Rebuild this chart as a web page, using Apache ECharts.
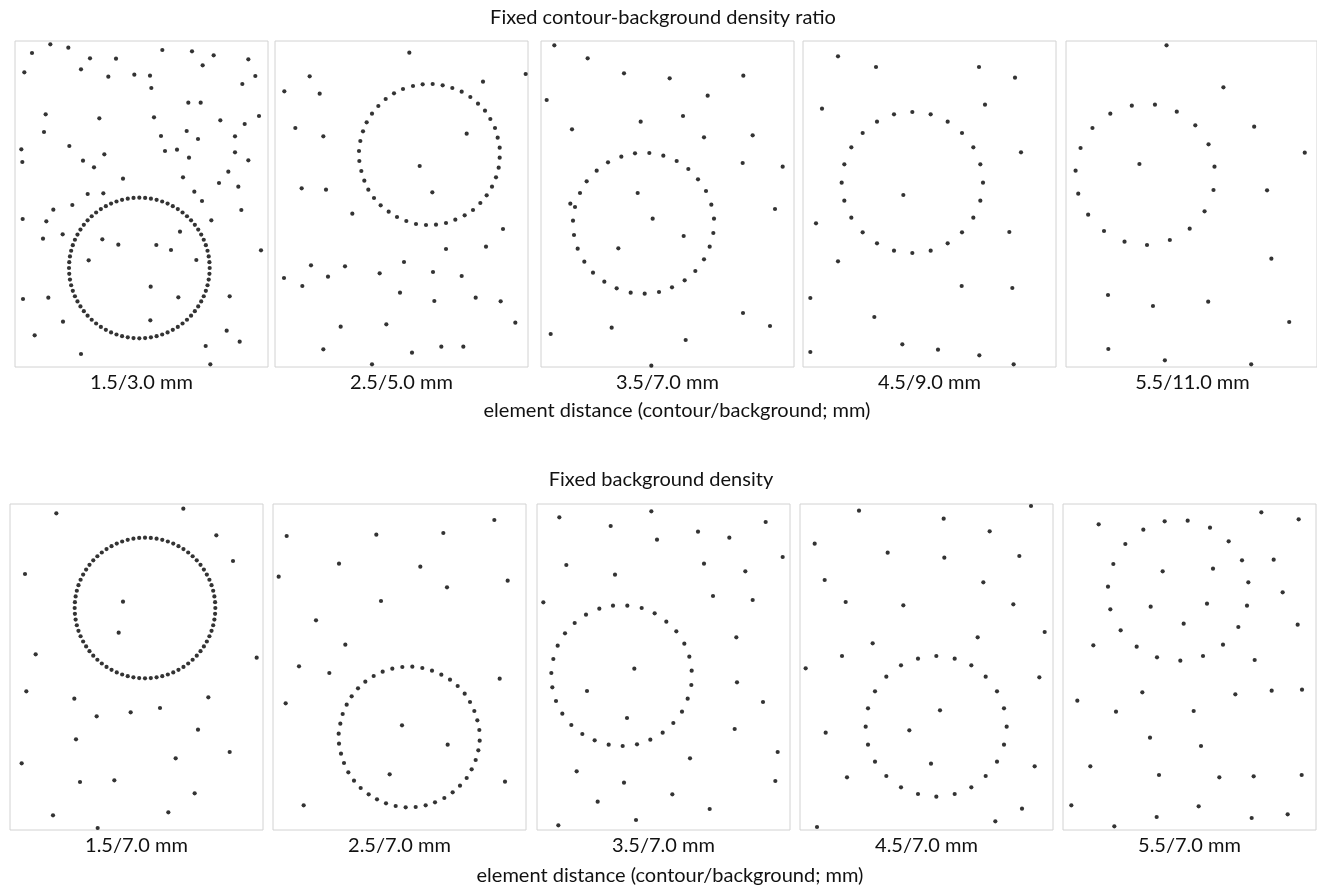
<!DOCTYPE html>
<html>
<head>
<meta charset="utf-8">
<script src="https://cdn.jsdelivr.net/npm/echarts@6/dist/echarts.min.js"></script>
<style>
html,body{margin:0;padding:0;background:#fff;}
#chart{width:1317px;height:887px;}
</style>
</head>
<body>
<div id="chart"></div>
<script>
// ---------- text ----------
const rowTitles = ['Fixed contour-background density ratio', 'Fixed background density'];
const topLabels = ['1.5/3.0 mm', '2.5/5.0 mm', '3.5/7.0 mm', '4.5/9.0 mm', '5.5/11.0 mm'];
const bottomLabels = ['1.5/7.0 mm', '2.5/7.0 mm', '3.5/7.0 mm', '4.5/7.0 mm', '5.5/7.0 mm'];
const axisTitle = 'element distance (contour/background; mm)';

// ---------- element positions (panel units, 0..759 x 0..978, y downward) ----------
// top row backgrounds
const top1Bg = [[106,10],[160,20],[51,36],[442,27],[531,31],[596,43],[225,52],[303,53],[700,55],[563,73],[198,85],[28,94],[358,101],[405,104],[280,107],[721,105],[682,129],[409,141],[520,185],[557,185],[92,220],[253,232],[417,229],[732,225],[616,238],[689,249],[87,273],[515,270],[438,285],[660,286],[549,294],[163,315],[19,325],[450,330],[486,326],[268,340],[660,334],[22,363],[204,359],[522,350],[700,358],[237,379],[640,392],[324,413],[504,409],[612,426],[670,437],[218,459],[265,457],[538,452],[561,480],[172,492],[115,506],[679,507],[23,534],[94,541],[589,538],[84,593],[143,580],[262,595],[310,611],[424,612],[495,572],[468,627],[738,628],[221,658],[544,657],[407,737],[24,774],[100,770],[490,769],[644,766],[144,842],[406,838],[635,869],[59,883],[674,902],[572,915],[198,939],[586,970]];
const top2Bg = [[403,35],[752,99],[104,106],[624,122],[28,151],[134,158],[61,261],[145,286],[575,278],[434,375],[80,442],[153,446],[472,454],[232,518],[684,564],[513,624],[633,617],[108,673],[210,676],[387,663],[27,711],[159,707],[314,697],[474,693],[560,705],[82,735],[375,755],[478,780],[602,770],[677,781],[721,845],[197,857],[334,850],[145,925],[411,935],[499,917],[565,917],[291,970]];
const top3Bg = [[40,13],[140,52],[249,97],[386,112],[607,104],[17,177],[500,164],[426,225],[299,242],[93,265],[635,283],[489,289],[605,366],[725,377],[290,456],[335,533],[88,488],[702,504],[428,585],[232,622],[606,816],[687,855],[29,879],[212,860],[434,897],[331,974]];
const top4Bg = [[105,46],[219,78],[528,78],[636,110],[57,203],[546,191],[654,334],[301,462],[39,547],[619,573],[105,661],[476,735],[628,741],[22,771],[214,828],[298,910],[405,926],[22,933],[529,943],[632,970]];
const top5Bg = [[304,13],[476,139],[569,257],[722,335],[222,369],[608,448],[621,653],[127,762],[263,795],[430,782],[675,843],[128,924],[299,958],[560,970]];
// top row contours
const top2Ring = [[357,157],[384,144],[414,135],[443,130],[473,129],[503,133],[532,141],[560,152],[586,168],[609,188],[630,209],[646,234],[660,261],[668,290],[674,320],[674,350],[671,380],[663,409],[651,437],[635,463],[616,486],[594,507],[569,523],[541,536],[513,546],[483,551],[453,552],[423,549],[394,540],[366,528],[341,512],[317,493],[297,471],[280,446],[268,419],[259,390],[253,360],[252,330],[256,300],[264,271],[275,244],[291,218],[310,195],[332,174]];
const top3Ring = [[282,337],[325,336],[367,344],[407,360],[442,384],[471,415],[495,450],[511,491],[519,533],[517,576],[506,617],[489,655],[463,690],[431,718],[393,739],[354,753],[311,758],[269,755],[227,742],[190,722],[156,695],[130,662],[110,623],[99,582],[96,539],[102,498],[117,456],[137,421],[167,389],[201,364],[241,347]];
const top4Ring = [[328,213],[383,220],[434,242],[477,276],[511,319],[532,370],[540,425],[532,479],[511,530],[477,574],[434,607],[383,629],[328,636],[273,629],[222,607],[179,574],[145,530],[124,479],[116,425],[124,370],[145,319],[179,276],[222,242],[273,220]];
const top5Ring = [[199,194],[269,191],[335,212],[391,253],[431,310],[449,377],[446,447],[419,511],[374,563],[314,597],[245,612],[177,602],[115,570],[67,521],[37,458],[29,389],[44,321],[80,261],[134,218]];
// bottom row backgrounds
const bot1Bg = [[139,28],[520,14],[619,94],[669,171],[45,210],[339,293],[326,386],[77,451],[740,461],[49,562],[193,584],[595,580],[450,612],[362,625],[260,637],[564,677],[198,706],[659,744],[497,763],[35,778],[210,834],[313,829],[554,868],[475,925],[129,934],[263,972]];
const bot2Bg = [[664,48],[41,96],[310,92],[511,87],[198,179],[442,188],[17,218],[704,230],[522,250],[324,291],[129,349],[217,422],[78,487],[169,507],[680,524],[38,598],[387,664],[524,722],[350,811],[696,833],[92,904]];
const bot3Bg = [[67,40],[343,22],[221,66],[360,107],[483,83],[577,101],[686,54],[88,183],[234,212],[501,179],[625,202],[737,159],[19,295],[528,276],[647,288],[598,400],[292,494],[150,561],[600,535],[678,594],[270,642],[593,675],[722,744],[459,763],[119,802],[261,836],[715,831],[406,871],[182,893],[518,915],[297,948],[64,964]];
const bot4Bg = [[177,20],[431,44],[693,6],[569,82],[44,119],[263,146],[433,161],[658,156],[74,228],[550,235],[137,294],[310,304],[640,301],[734,384],[533,400],[218,418],[126,456],[17,493],[718,520],[420,619],[328,679],[77,686],[393,779],[704,787],[141,820],[666,914],[586,952],[51,969]];
const bot5Bg = [[595,25],[707,46],[107,61],[632,167],[450,194],[299,202],[659,265],[263,308],[432,299],[362,359],[704,362],[91,424],[575,468],[43,590],[238,565],[517,571],[626,560],[717,557],[159,623],[392,621],[261,701],[414,726],[82,787],[288,813],[469,820],[572,817],[716,813],[25,904],[407,907],[281,939],[566,942],[674,931],[154,967]];
// bottom row contours
const bot2Ring = [[388,489],[418,488],[448,492],[477,500],[505,512],[531,527],[554,546],[575,569],[591,594],[604,621],[613,649],[619,678],[620,710],[616,739],[608,768],[596,796],[581,822],[561,845],[539,865],[514,882],[486,895],[458,904],[428,909],[398,910],[368,906],[339,898],[312,886],[287,871],[263,852],[243,830],[226,805],[213,777],[204,749],[198,719],[197,689],[202,659],[209,630],[221,602],[236,577],[255,553],[277,533],[302,516],[329,503],[358,494]];
const bot3Ring = [[228,305],[271,305],[314,312],[353,328],[388,353],[418,382],[442,419],[457,458],[464,500],[463,543],[452,584],[435,623],[409,657],[377,686],[340,707],[300,721],[257,726],[215,722],[173,709],[136,690],[103,663],[76,629],[57,591],[46,550],[43,507],[49,465],[62,425],[84,388],[113,357],[147,332],[187,314]];
const bot4Ring = [[409,456],[464,464],[514,484],[557,518],[591,562],[612,613],[620,668],[612,722],[591,773],[557,816],[514,850],[464,870],[409,878],[354,870],[303,850],[259,816],[225,773],[204,722],[197,668],[204,613],[225,562],[259,518],[303,484],[354,464]];
const bot5Ring = [[187,120],[241,77],[305,52],[374,50],[441,71],[497,112],[537,169],[556,235],[552,305],[526,369],[480,422],[420,456],[352,470],[282,460],[221,428],[173,379],[142,316],[135,248],[151,180]];
// densest contours (1.5 mm spacing): centre, radius and element count
const denseRingCenter = [[373, 681], [405, 312]];
const denseRingRadius = [211, 211];
const denseRingCount = [76, 76];

function denseRing(k) {
  const pts = [];
  const n = denseRingCount[k], c = denseRingCenter[k], r = denseRingRadius[k];
  for (let i = 0; i < n; i++) {
    const a = -Math.PI / 2 + 2 * Math.PI * i / n;
    pts.push([c[0] + r * Math.cos(a), c[1] + r * Math.sin(a)]);
  }
  return pts;
}

const panelBg = [top1Bg, top2Bg, top3Bg, top4Bg, top5Bg, bot1Bg, bot2Bg, bot3Bg, bot4Bg, bot5Bg];
const panelRing = [denseRing(0), top2Ring, top3Ring, top4Ring, top5Ring, denseRing(1), bot2Ring, bot3Ring, bot4Ring, bot5Ring];

// ---------- layout ----------
const topLefts = [15, 275, 541, 803, 1066];
const botLefts = [10, 273, 537, 800, 1063];
const PW = 253, PH = 326, TOP1 = 41, TOP2 = 504;
const FONT = 'Lato';
const FS = 20;

const grids = [], xAxes = [], yAxes = [], series = [], graphics = [];
for (let i = 0; i < 10; i++) {
  const row = i < 5 ? 0 : 1;
  const left = row === 0 ? topLefts[i] : botLefts[i - 5];
  const top = row === 0 ? TOP1 : TOP2;
  grids.push({left: left, top: top, width: PW, height: PH, show: true, borderColor: '#d2d2d2', borderWidth: 1, backgroundColor: '#fff'});
  xAxes.push({type: 'value', gridIndex: i, min: 0, max: 759, show: false});
  yAxes.push({type: 'value', gridIndex: i, min: 0, max: 978, inverse: true, show: false});
  [panelBg[i], panelRing[i]].forEach(function (d) {
    series.push({type: 'scatter', xAxisIndex: i, yAxisIndex: i, data: d, symbol: 'circle', symbolSize: 4.2,
      itemStyle: {color: '#000'}, silent: true, clip: false});
  });
  const lbl = row === 0 ? topLabels[i] : bottomLabels[i - 5];
  graphics.push({type: 'text', x: left + PW / 2, y: top + PH + 16,
    style: {text: lbl, fontFamily: FONT, fontSize: FS, fill: '#111', align: 'center', verticalAlign: 'middle', textAlign: 'center', textVerticalAlign: 'middle'}});
}
function addText(txt, x, y) {
  graphics.push({type: 'text', x: x, y: y,
    style: {text: txt, fontFamily: FONT, fontSize: FS, fill: '#111', align: 'center', verticalAlign: 'middle', textAlign: 'center', textVerticalAlign: 'middle'}});
}
addText(rowTitles[0], 663, 18);
addText(axisTitle, 677, 411);
addText(rowTitles[1], 661, 480);
addText(axisTitle, 670, 876);

const chart = echarts.init(document.getElementById('chart'), null, {renderer: 'canvas'});
chart.setOption({
  animation: false,
  backgroundColor: '#fff',
  grid: grids,
  xAxis: xAxes,
  yAxis: yAxes,
  series: series,
  graphic: graphics
});
</script>
</body>
</html>
